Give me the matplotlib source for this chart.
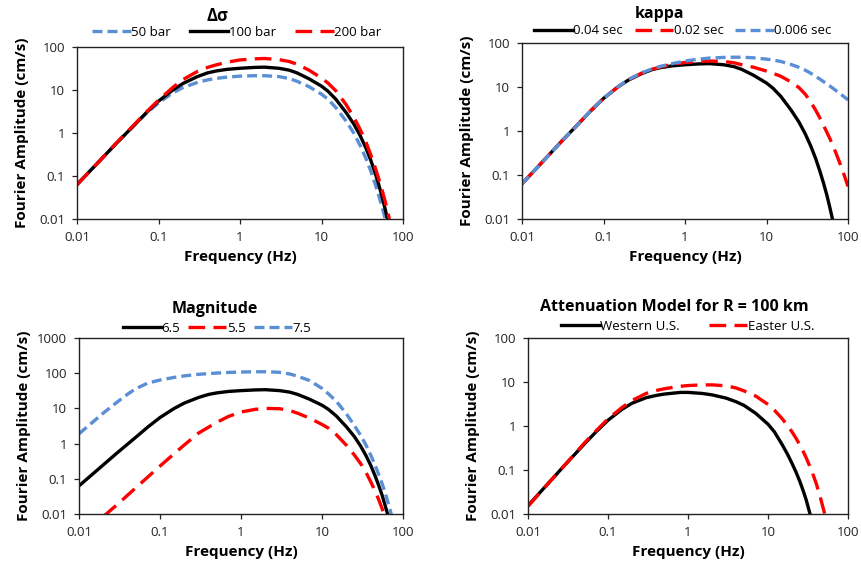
import matplotlib
matplotlib.use("Agg")
import matplotlib.pyplot as plt
from matplotlib.ticker import FixedLocator, FixedFormatter, NullLocator

plt.rcParams["font.family"] = ["Open Sans", "DejaVu Sans"]

# ---- data (frequency in Hz, amplitude in cm/s) ----
freq_a = [0.01, 0.02, 0.03, 0.05, 0.07, 0.1, 0.15, 0.2, 0.3, 0.4, 0.5, 0.7, 1,
          1.5, 2, 3, 4, 5, 7, 10, 12, 15, 20, 25, 30, 35, 40, 45, 50, 55, 60,
          65, 70]
sigma_50 = [0.063, 0.25, 0.56, 1.48, 2.8, 5.0, 8.6, 11.4, 15, 17.2, 18.5, 20,
            21, 21.5, 21.5, 20.5, 18.5, 16, 12, 8, 6.1, 3.9, 1.9, 0.98, 0.5,
            0.26, 0.135, 0.07, 0.037, 0.02, 0.0107, 0.0056, 0.0029]
sigma_100 = [0.063, 0.25, 0.56, 1.5, 2.9, 5.5, 10, 14.2, 20.5, 25, 27.5, 30.3,
             32, 33.5, 34, 32, 29, 25, 18.3, 12.3, 9.4, 6.1, 3.0, 1.6, 0.85,
             0.45, 0.24, 0.125, 0.066, 0.035, 0.018, 0.0093, 0.0047]
sigma_200 = [0.063, 0.25, 0.57, 1.55, 3.0, 5.8, 11.5, 17.5, 27, 33.5, 38, 44.5,
             50, 53, 54, 51, 46, 40, 29, 19, 14.5, 9.6, 4.6, 2.3, 1.18, 0.62,
             0.32, 0.168, 0.09, 0.049, 0.027, 0.0145, 0.0077]

freq_b = [0.01, 0.02, 0.03, 0.05, 0.07, 0.1, 0.15, 0.2, 0.3, 0.4, 0.5, 0.7, 1,
          1.5, 2, 3, 4, 5, 7, 10, 12, 15, 20, 25, 30, 35, 40, 45, 50, 60, 70,
          80, 90, 100]
kappa_004 = sigma_100
kappa_002 = [0.063, 0.25, 0.56, 1.5, 2.9, 5.5, 10, 14.5, 21, 25.5, 28.5, 33, 36,
             38, 39, 38, 35.5, 32, 28, 23, 20.5, 17.5, 13, 9.7, 6.8, 4.5, 3.0,
             2.0, 1.35, 0.67, 0.34, 0.18, 0.098, 0.055]
kappa_0006 = [0.063, 0.25, 0.56, 1.5, 2.9, 5.5, 10.1, 14.6, 21.3, 26, 29.5, 34,
              39, 43, 45.5, 47, 47.5, 47.5, 46, 43, 41, 38, 32.5, 28, 24, 20.5,
              17.5, 15.2, 13.3, 10.5, 8.5, 7.0, 5.95, 5.1]

mag_65 = sigma_100
freq_m75 = [0.01, 0.015, 0.02, 0.03, 0.04, 0.05, 0.07, 0.1, 0.15, 0.2, 0.3,
            0.5, 0.7, 1, 1.5, 2, 3, 4, 5, 7, 10, 12, 15, 20, 25, 30, 35, 40, 45,
            50, 55, 60, 65, 70, 80]
mag_75 = [1.9, 4.2, 7.4, 15.5, 25.5, 36, 52, 64, 76, 84, 93, 101, 105, 108, 110,
          110, 106, 95, 82, 62, 37, 26, 16, 7, 3.3, 1.72, 0.9, 0.47, 0.25,
          0.135, 0.075, 0.041, 0.022, 0.012, 0.0033]
freq_m55 = [0.02, 0.03, 0.05, 0.07, 0.1, 0.15, 0.2, 0.3, 0.4, 0.5, 0.7, 1, 1.5,
            2, 3, 4, 5, 7, 10, 12, 15, 20, 25, 30, 35, 40, 45, 50, 55, 60]
mag_55 = [0.0085, 0.019, 0.055, 0.11, 0.23, 0.52, 0.92, 2.0, 2.95, 4.0, 5.9,
          7.9, 9.4, 10, 9.8, 8.7, 7.3, 5.3, 3.5, 2.75, 1.8, 0.9, 0.48, 0.27,
          0.15, 0.082, 0.046, 0.026, 0.0145, 0.0082]

freq_d = [0.01, 0.02, 0.03, 0.05, 0.07, 0.1, 0.15, 0.2, 0.3, 0.4, 0.5, 0.8, 1,
          1.5, 2, 3, 4, 5, 7, 10, 12, 15, 17.5, 20, 22.5, 25, 27.5, 30, 35, 40,
          45, 50, 55]
western = [0.0155, 0.062, 0.14, 0.38, 0.72, 1.35, 2.4, 3.3, 4.4, 4.95, 5.3, 5.8,
           5.8, 5.5, 5.1, 4.3, 3.55, 2.95, 1.95, 1.1, 0.74, 0.38, 0.23, 0.14,
           0.088, 0.055, 0.034, 0.021, 0.0075]
eastern = [0.015, 0.062, 0.14, 0.4, 0.76, 1.45, 2.65, 3.8, 5.5, 6.4, 7.0, 8.0,
           8.3, 8.6, 8.6, 8.2, 7.3, 6.3, 4.8, 3.1, 2.3, 1.47, 1.03, 0.73, 0.52,
           0.37, 0.265, 0.19, 0.098, 0.05, 0.024, 0.0118, 0.0058]

x_ticks = [0.01, 0.1, 1, 10, 100]
x_labels = ["0.01", "0.1", "1", "10", "100"]
y_ticks = [0.01, 0.1, 1, 10, 100, 1000]
y_labels = ["0.01", "0.1", "1", "10", "100", "1000"]

BLUE = "#5B8FD5"
RED = "#FF0000"
W, H = 862, 567


def fx(px):
    return px / W


def fy(py):
    return 1 - py / H


def add_panel(fig, box, ymax):
    x0, y0, x1, y1 = box
    ax = fig.add_axes([fx(x0), fy(y1), (x1 - x0) / W, (y1 - y0) / H])
    ax.set_xscale("log")
    ax.set_yscale("log")
    ax.set_xlim(0.01, 100)
    ax.set_ylim(0.01, ymax)
    n = y_ticks.index(ymax) + 1
    ax.xaxis.set_major_locator(FixedLocator(x_ticks))
    ax.xaxis.set_major_formatter(FixedFormatter(x_labels))
    ax.yaxis.set_major_locator(FixedLocator(y_ticks[:n]))
    ax.yaxis.set_major_formatter(FixedFormatter(y_labels[:n]))
    ax.xaxis.set_minor_locator(NullLocator())
    ax.yaxis.set_minor_locator(NullLocator())
    ax.tick_params(direction="out", length=3.5, width=0.9, labelsize=9.5,
                   colors="#222222", pad=5)
    for s in ax.spines.values():
        s.set_linewidth(1.0)
        s.set_color("#222222")
    fig.text(fx(x0 - 55), fy((y0 + y1) / 2), "Fourier Amplitude (cm/s)",
             rotation=90, fontsize=11, fontweight="bold",
             ha="center", va="center")
    fig.text(fx((x0 + x1) / 2), fy(y1 + 38), "Frequency (Hz)", fontsize=11,
             fontweight="bold", ha="center", va="center")
    return ax


def style(color, solid=False, long_dash=False):
    if solid:
        return dict(color=color, lw=2.4, ls="-")
    dashes = (5, 2.5) if long_dash else (3, 1.5)
    return dict(color=color, lw=2.4, ls=(0, dashes))


def legend(ax, fig, cx, cy, spacing, ncol=3):
    ax.legend(loc="center", bbox_to_anchor=(fx(cx), fy(cy)),
              bbox_transform=fig.transFigure, ncol=ncol, frameon=False,
              fontsize=9.5, handlelength=2.9, handletextpad=0.05,
              columnspacing=spacing, borderaxespad=0, borderpad=0)


fig = plt.figure(figsize=(W / 100, H / 100), dpi=100)

# top left: stress drop
ax = add_panel(fig, (77, 47, 403, 219), 100)
ax.plot(freq_a, sigma_50, label="50 bar", **style(BLUE))
ax.plot(freq_a, sigma_100, label="100 bar", **style("black", solid=True))
ax.plot(freq_a, sigma_200, label="200 bar", **style(RED, long_dash=True))
legend(ax, fig, 237, 32, 1.45)
fig.text(fx(217), fy(16), "\u0394\u03c3", fontsize=12, fontweight="bold",
         ha="center", va="center")

# top right: kappa
ax = add_panel(fig, (522, 43, 848, 219), 100)
ax.plot(freq_a, kappa_004, label="0.04 sec", **style("black", solid=True))
ax.plot(freq_b, kappa_002, label="0.02 sec", **style(RED, long_dash=True))
ax.plot(freq_b, kappa_0006, label="0.006 sec", **style(BLUE))
legend(ax, fig, 683, 31, 0.9)
fig.text(fx(660), fy(14), "kappa", fontsize=11.5, fontweight="bold",
         ha="center", va="center")

# bottom left: magnitude
ax = add_panel(fig, (79, 338, 403, 514), 1000)
ax.plot(freq_a, mag_65, label="6.5", **style("black", solid=True))
ax.plot(freq_m55, mag_55, label="5.5", **style(RED, long_dash=True))
ax.plot(freq_m75, mag_75, label="7.5", **style(BLUE))
legend(ax, fig, 217, 328, 0.6)
fig.text(fx(215), fy(309), "Magnitude", fontsize=11.5, fontweight="bold",
         ha="center", va="center")

# bottom right: attenuation model
ax = add_panel(fig, (528, 338, 848, 514), 100)
ax.plot(freq_d[:len(western)], western, label="Western U.S.",
        **style("black", solid=True))
ax.plot(freq_d, eastern, label="Easter U.S.", **style(RED, long_dash=True))
legend(ax, fig, 688, 326, 2.2, ncol=2)
fig.text(fx(674), fy(307), "Attenuation Model for R = 100 km", fontsize=11.5,
         fontweight="bold", ha="center", va="center")

fig.savefig("out.png", dpi=100)
